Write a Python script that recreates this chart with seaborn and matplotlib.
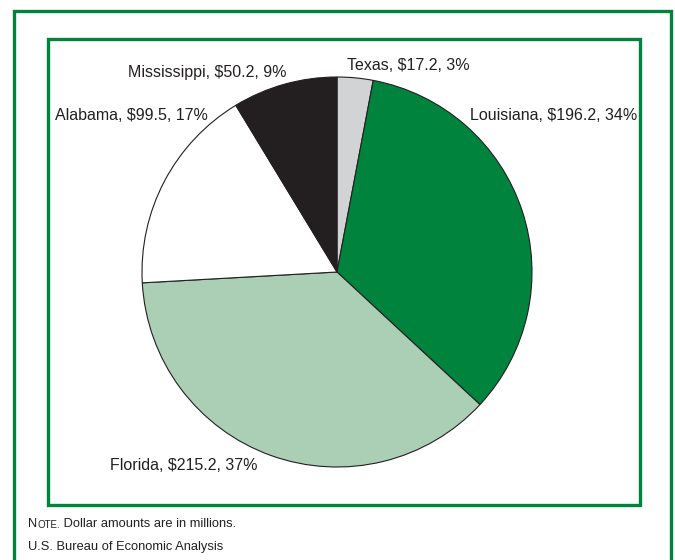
import matplotlib
matplotlib.use("Agg")
import matplotlib.pyplot as plt
import matplotlib.patches as mpatches
import seaborn as sns

# Data (millions of dollars)
states = ["Texas", "Louisiana", "Florida", "Alabama", "Mississippi"]
amounts = [17.2, 196.2, 215.2, 99.5, 50.2]
percents = [3, 34, 37, 17, 9]
colors = ["#d1d3d4", "#00843d", "#abcfb5", "#ffffff", "#231f20"]

sns.set_style("white")
plt.rcParams["font.family"] = ["Liberation Sans Narrow", "Liberation Sans", "DejaVu Sans"]

W, H = 675, 560
fig = plt.figure(figsize=(W / 100, H / 100), dpi=100)

def fx(px):
    return px / W

def fy(py):
    return 1 - py / H

# outer and inner green frames
green = "#00843d"
fig.patches.append(mpatches.Rectangle((fx(14), fy(600)), fx(657), (600 - 11) / H,
                                      transform=fig.transFigure, fill=False,
                                      edgecolor=green, linewidth=2.4))
fig.patches.append(mpatches.Rectangle((fx(48), fy(505)), fx(592), (505 - 39) / H,
                                      transform=fig.transFigure, fill=False,
                                      edgecolor=green, linewidth=2.4))

# pie axes: centre (337, 272), radius 195 px
ax = fig.add_axes([fx(142), fy(467), 390 / W, 390 / H])
ax.pie(amounts, colors=colors, startangle=90, counterclock=False,
       wedgeprops=dict(edgecolor="#231f20", linewidth=0.8))
ax.set_xlim(-1, 1)
ax.set_ylim(-1, 1)
ax.set_aspect("equal")
ax.axis("off")

labels = [f"{s}, ${a}, {p}%" for s, a, p in zip(states, amounts, percents)]
# label anchors in pixels (x, y, ha)
label_pos = [(347, 66, "left"), (470, 116, "left"), (110, 466, "left"),
             (208, 116, "right"), (287, 72, "right")]
for lab, (x, y, ha) in zip(labels, label_pos):
    fig.text(fx(x), fy(y), lab, ha=ha, va="center", fontsize=11.5, color="#231f20")

# footnotes
n = fig.text(fx(28), fy(524), "N", fontsize=9.3, color="#231f20", va="center")
o = ax.annotate("OTE.", xy=(1, 0), xycoords=n, fontsize=7, color="#231f20",
                va="bottom")
ax.annotate(" Dollar amounts are in millions.", xy=(1, 0), xycoords=o,
            fontsize=9.3, color="#231f20", va="bottom")
fig.text(fx(28), fy(547), "U.S. Bureau of Economic Analysis", fontsize=9.3,
         color="#231f20", va="center")

fig.savefig("out.png", dpi=100)
